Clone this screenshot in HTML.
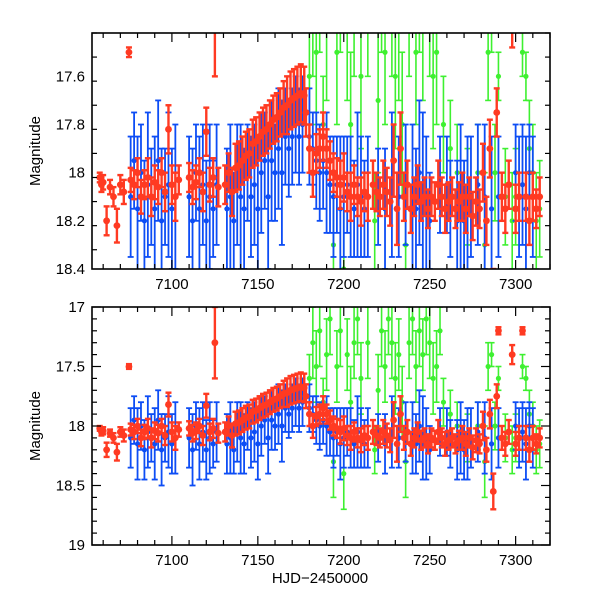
<!DOCTYPE html>
<html><head><meta charset="utf-8"><style>
body{margin:0;background:#fff}
svg text{font-family:"Liberation Sans",sans-serif;fill:#000}
</style></head><body>
<svg id="chart" width="600" height="600" viewBox="0 0 600 600" xmlns="http://www.w3.org/2000/svg">
<defs>
<clipPath id="clipTop"><rect x="92" y="33" width="458" height="236"/></clipPath>
<clipPath id="clipBot"><rect x="92" y="307" width="458" height="238"/></clipPath>
</defs>
<g id="top"></g>
<g id="bot"></g>
<text x="320" y="583" font-size="15" text-anchor="middle">HJD−2450000</text>
</svg>
<script>
const redT=[7058,7059,7060,7062,7064,7066,7068,7070,7072,7075,7076,7078,7080,7082,7084,7086,7088,7090,7092,7094,7096,7098,7100,7102,7104,7110,7112,7114,7116,7118,7120,7122,7124,7125,7127,7131,7133,7135,7137,7139,7141,7143,7145,7147,7149,7151,7153,7155,7157,7159,7161,7163,7165,7167,7169,7171,7173,7175,7177,7178,7180,7182,7184,7186,7188,7190,7192,7194,7196,7198,7200,7202,7204,7206,7208,7210,7212,7214,7217,7219,7221,7223,7225,7227,7229,7231,7233,7235,7237,7239,7241,7243,7245,7247,7249,7251,7253,7255,7257,7259,7261,7263,7265,7267,7269,7271,7273,7275,7277,7279,7281,7283,7285,7287,7289,7290,7292,7294,7296,7298,7300,7302,7304,7306,7308,7310,7312,7314];
const redM=[18.02,18.05,18.04,18.2,18.06,18.1,18.22,18.05,18.08,17.5,18.03,18.05,18.0,18.1,18.05,18.02,18.1,18.04,18.06,18.0,18.08,17.82,18.05,18.1,18.03,18.02,18.06,18.04,18.0,18.08,17.83,18.05,18.02,17.3,18.06,18.05,18.0,18.08,17.98,17.97,17.95,17.93,17.92,17.88,17.87,17.85,17.83,17.82,17.8,17.78,17.77,17.75,17.73,17.72,17.7,17.69,17.68,17.67,17.68,17.75,17.9,18.0,17.92,17.9,17.85,17.9,17.95,18.0,18.02,18.05,18.02,18.08,18.1,18.05,18.1,18.12,18.08,18.1,18.05,18.08,18.1,18.05,18.08,18.12,17.95,18.15,17.9,18.1,18.05,18.15,18.1,18.05,18.12,18.1,18.15,18.1,18.12,18.05,18.1,18.15,18.12,18.1,18.15,18.12,18.1,18.15,18.1,18.18,18.12,18.15,18.0,18.2,17.9,18.55,17.75,17.2,18.1,18.15,18.05,17.4,18.15,18.1,17.2,18.1,18.2,18.1,18.15,18.1];
const redE=[.02,.03,.03,.06,.03,.04,.07,.04,.05,.02,.05,.06,.06,.07,.06,.08,.08,.07,.07,.06,.08,.1,.08,.1,.06,.06,.07,.07,.06,.08,.1,.07,.08,.3,.08,.08,.08,.1,.1,.1,.1,.1,.1,.1,.1,.1,.1,.1,.1,.1,.1,.1,.11,.12,.12,.12,.12,.12,.12,.1,.1,.1,.08,.08,.1,.08,.08,.08,.08,.1,.1,.08,.1,.08,.08,.1,.08,.1,.1,.08,.08,.1,.1,.1,.15,.15,.15,.1,.1,.1,.08,.08,.08,.08,.08,.08,.08,.1,.08,.1,.08,.08,.08,.08,.1,.1,.08,.1,.1,.08,.12,.1,.12,.15,.1,.03,.1,.1,.1,.08,.1,.1,.03,.1,.1,.1,.08,.08];
const blueT=[7076,7078,7080,7082,7084,7086,7088,7090,7092,7094,7096,7098,7100,7102,7110,7112,7114,7116,7118,7120,7122,7124,7126,7132,7134,7136,7138,7140,7142,7144,7146,7148,7150,7152,7154,7156,7158,7160,7162,7164,7166,7168,7170,7172,7174,7176,7180,7182,7184,7186,7188,7190,7192,7194,7196,7198,7200,7202,7204,7206,7208,7210,7212,7214,7220,7224,7228,7232,7236,7240,7242,7244,7246,7248,7250,7256,7260,7262,7266,7268,7270,7272,7274,7278,7282,7286,7290,7300,7302,7304,7306,7308,7310];
const blueM=[18.1,17.95,18.15,18.0,18.2,18.05,18.1,18.15,17.95,18.2,18.1,18.05,18.15,18.1,18.1,18.2,18.0,18.15,18.05,18.2,18.1,18.15,18.05,18.15,18.1,18.2,18.05,18.1,18.15,18.0,18.1,18.05,18.15,18.0,17.95,18.1,17.95,18.0,17.9,18.0,17.85,17.9,17.85,17.8,17.85,17.8,17.85,17.9,17.95,18.0,17.95,18.0,18.05,18.1,18.05,18.15,18.1,18.05,18.1,18.15,18.05,18.1,18.15,18.1,18.1,18.15,18.05,18.1,18.05,18.1,18.15,18.0,18.1,18.15,18.2,18.05,18.05,18.15,18.2,18.1,18.2,18.15,18.1,18.05,18.1,18.15,18.1,18.0,18.1,18.05,18.15,18.0,18.1];
const blueE=[.25,.2,.3,.2,.25,.3,.2,.3,.25,.3,.2,.3,.25,.3,.25,.3,.2,.3,.25,.25,.3,.2,.25,.25,.3,.2,.25,.3,.25,.2,.25,.25,.3,.25,.2,.3,.25,.2,.25,.3,.2,.2,.2,.2,.2,.2,.2,.15,.2,.2,.2,.25,.2,.25,.2,.3,.25,.2,.25,.2,.3,.25,.2,.25,.2,.25,.3,.25,.25,.3,.25,.3,.35,.3,.2,.2,.2,.2,.25,.3,.25,.3,.25,.25,.3,.3,.25,.2,.25,.25,.3,.2,.25];
const greenT=[7180,7182,7184,7186,7188,7190,7192,7194,7196,7198,7200,7202,7204,7206,7208,7210,7214,7218,7220,7222,7224,7226,7228,7230,7232,7234,7236,7238,7240,7242,7244,7246,7248,7250,7252,7254,7256,7258,7262,7266,7272,7278,7282,7284,7286,7288,7290,7294,7298,7300,7304,7306,7308,7310,7312,7314];
const greenM=[17.6,17.3,17.5,17.2,17.8,17.4,17.1,18.3,17.5,17.2,18.4,17.4,17.8,17.3,17.1,17.6,17.3,18.2,17.7,17.2,17.5,17.1,17.3,17.6,17.4,17.8,18.3,17.3,17.1,17.5,17.2,17.4,17.1,17.3,17.6,17.5,17.2,17.8,17.9,18.0,18.1,18.0,18.3,17.5,17.4,18.0,17.6,18.1,18.2,18.1,17.5,17.6,17.9,18.0,18.2,18.15];
const greenE=[.2,.3,.3,.3,.2,.3,.3,.3,.3,.3,.3,.3,.3,.3,.3,.3,.3,.2,.3,.3,.3,.3,.3,.3,.3,.3,.3,.3,.3,.3,.3,.3,.3,.3,.3,.3,.2,.2,.2,.2,.2,.2,.3,.2,.1,.2,.1,.2,.2,.2,.1,.1,.2,.2,.2,.2];
const xTicks=[7100,7150,7200,7250,7300];
const topYTicks=[17.6,17.8,18,18.2,18.4];
const botYTicks=[17,17.5,18,18.5,19];

const NS="http://www.w3.org/2000/svg";
const X0=92,X1=550,T0=7053.5,T1=7320;
function sx(t){return X0+(t-T0)/(T1-T0)*(X1-X0);}
function mk(tag,attrs,parent){const e=document.createElementNS(NS,tag);for(const k in attrs)e.setAttribute(k,attrs[k]);parent.appendChild(e);return e;}

function panel(g,y0,y1,mTop,mBot,clip,yTicks,minorStep,labels,pname){
  const sy=m=>y0+(m-mTop)/(mBot-mTop)*(y1-y0);
  const d=mk('g',{'clip-path':'url(#'+clip+')'},g);
  
  
  const series=[[greenT,greenM,greenE,'#3ef030','green',1.6,2.6],[blueT,blueM,blueE,'#0d4df5','blue',1.8,2.6],[redT,redM,redE,'#ff3a22','red',2.4,3.4]];
  series.forEach(s=>{
    const sg=mk('g',{stroke:s[3],fill:s[3],'stroke-width':s[5]},d);
    
    
    for(let i=0;i<s[0].length;i++){
      const x=sx(s[0][i]),y=sy(s[1][i]),ya=sy(s[1][i]-s[2][i]),yb=sy(s[1][i]+s[2][i]);
      mk('line',{x1:x,x2:x,y1:ya,y2:yb},sg);
      mk('line',{x1:x-3,x2:x+3,y1:ya,y2:ya},sg);
      mk('line',{x1:x-3,x2:x+3,y1:yb,y2:yb},sg);
      const c=mk('circle',{cx:x,cy:y,r:s[6],stroke:'none'},sg);
      
      
    }
  });
  const fr=mk('rect',{x:X0,y:y0,width:X1-X0,height:y1-y0,fill:'none',stroke:'#000','stroke-width':1.6},g);
  
  
  const tg=mk('g',{stroke:'#000','stroke-width':1.2},g);
  for(let t=7060;t<=7320;t+=10){const x=sx(t);const L=(t%50===0)?9:5;
    mk('line',{x1:x,x2:x,y1:y0,y2:y0+L},tg);mk('line',{x1:x,x2:x,y1:y1,y2:y1-L},tg);}
  for(let m=mTop;m<=mBot+1e-6;m+=minorStep){const y=sy(m);
    const maj=yTicks.some(v=>Math.abs(v-m)<1e-6);const L=maj?9:5;
    mk('line',{x1:X0,x2:X0+L,y1:y,y2:y},tg);mk('line',{x1:X1,x2:X1-L,y1:y,y2:y},tg);}
  yTicks.forEach(v=>{const t=mk('text',{x:X0-7,y:sy(v)+5,'font-size':15,'text-anchor':'end'},g);t.textContent=String(v);
    
    });
  if(labels) xTicks.forEach(v=>{const t=mk('text',{x:sx(v),y:y1+20,'font-size':15,'text-anchor':'middle'},g);t.textContent=String(v);
    
    });
  const yt=mk('text',{x:0,y:0,'font-size':15,'text-anchor':'middle',transform:'translate(40,'+((y0+y1)/2)+') rotate(-90)'},g);
  yt.textContent='Magnitude';
  
  
}
panel(document.getElementById('top'),33,269,17.42,18.4,'clipTop',topYTicks,0.1,true,'top');
panel(document.getElementById('bot'),307,545,17,19,'clipBot',botYTicks,0.1,true,'bottom');
</script>
</body></html>
